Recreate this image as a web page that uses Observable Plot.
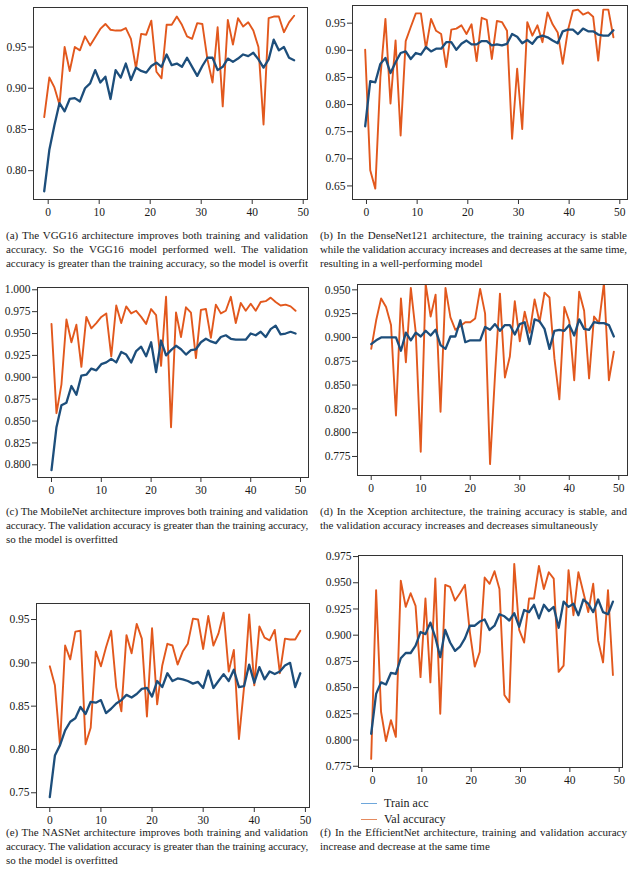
<!DOCTYPE html>
<html>
<head>
<meta charset="utf-8">
<script src="https://cdn.jsdelivr.net/npm/d3@7"></script>
<script src="https://cdn.jsdelivr.net/npm/@observablehq/plot@0.6"></script>
<style>
  html, body { margin: 0; padding: 0; background: #fff; }
  #page { position: relative; width: 630px; height: 870px; overflow: hidden; background: #fff; font-family: "Liberation Serif", "DejaVu Serif", serif; color: #1a1a1a; }
  .panel { position: absolute; }
  .cap { position: absolute; font-size: 11px; line-height: 14.2px; color: #1a1a1a; }
  .cap div { white-space: nowrap; }
  .cap .j { text-align: justify; text-align-last: justify; }
  .leg { position: absolute; font-size: 12px; color: #1a1a1a; display: flex; align-items: center; }
  .leg span.sw { display: inline-block; width: 16px; height: 0; border-top: 1.6px solid; margin-right: 7px; }
</style>
</head>
<body>
<div id="page"></div>
<script>
// ---------- data ----------
const epochs = Array.from({length: 50}, (_, i) => i);

const trainVGG16 = [0.775,0.825,0.855,0.882,0.872,0.887,0.888,0.884,0.900,0.906,0.922,0.907,0.914,0.887,0.922,0.913,0.930,0.910,0.925,0.921,0.919,0.927,0.931,0.926,0.941,0.928,0.930,0.926,0.937,0.926,0.915,0.927,0.937,0.937,0.922,0.926,0.936,0.932,0.936,0.941,0.939,0.943,0.935,0.925,0.935,0.959,0.946,0.950,0.937,0.934];
const valVGG16 = [0.865,0.913,0.901,0.880,0.950,0.921,0.950,0.946,0.963,0.952,0.962,0.972,0.978,0.971,0.970,0.970,0.973,0.960,0.924,0.966,0.965,0.982,0.920,0.912,0.977,0.977,0.987,0.977,0.963,0.960,0.979,0.978,0.935,0.907,0.974,0.878,0.983,0.953,0.985,0.975,0.980,0.970,0.950,0.856,0.985,0.987,0.987,0.968,0.980,0.988];

const trainDenseNet = [0.760,0.843,0.841,0.875,0.886,0.858,0.878,0.895,0.898,0.884,0.895,0.892,0.906,0.898,0.903,0.903,0.915,0.915,0.901,0.912,0.918,0.911,0.911,0.917,0.917,0.909,0.911,0.909,0.912,0.930,0.925,0.913,0.919,0.912,0.924,0.927,0.924,0.918,0.913,0.935,0.938,0.938,0.930,0.940,0.935,0.935,0.929,0.927,0.927,0.937];
const valDenseNet = [0.901,0.679,0.645,0.850,0.958,0.802,0.918,0.743,0.917,0.943,0.968,0.968,0.903,0.958,0.936,0.930,0.869,0.938,0.940,0.946,0.930,0.948,0.880,0.960,0.956,0.884,0.954,0.952,0.936,0.737,0.866,0.755,0.952,0.927,0.946,0.915,0.970,0.948,0.933,0.875,0.936,0.973,0.975,0.966,0.970,0.962,0.881,0.975,0.975,0.924];

const trainMobileNet = [0.794,0.843,0.868,0.871,0.890,0.880,0.902,0.903,0.910,0.908,0.915,0.917,0.921,0.917,0.929,0.926,0.917,0.930,0.935,0.924,0.940,0.906,0.942,0.925,0.931,0.936,0.932,0.926,0.931,0.932,0.940,0.944,0.941,0.939,0.946,0.948,0.944,0.943,0.943,0.943,0.950,0.948,0.952,0.946,0.955,0.959,0.949,0.950,0.952,0.950];
const valMobileNet = [0.961,0.859,0.892,0.966,0.940,0.960,0.912,0.969,0.956,0.962,0.969,0.973,0.924,0.982,0.962,0.981,0.973,0.976,0.969,0.961,0.978,0.971,0.913,0.992,0.843,0.974,0.946,0.980,0.974,0.922,0.977,0.978,0.945,0.983,0.973,0.976,0.992,0.962,0.985,0.976,0.984,0.976,0.986,0.987,0.991,0.986,0.982,0.983,0.981,0.976];

const trainXception = [0.893,0.897,0.900,0.900,0.900,0.900,0.886,0.905,0.897,0.905,0.901,0.907,0.902,0.908,0.892,0.888,0.901,0.901,0.918,0.895,0.897,0.897,0.897,0.911,0.908,0.914,0.907,0.913,0.913,0.903,0.914,0.916,0.893,0.919,0.917,0.909,0.888,0.907,0.908,0.907,0.913,0.902,0.919,0.909,0.908,0.916,0.915,0.915,0.913,0.901];
const valXception = [0.888,0.918,0.941,0.932,0.913,0.818,0.941,0.874,0.952,0.905,0.780,0.956,0.922,0.945,0.822,0.952,0.921,0.908,0.912,0.916,0.916,0.920,0.951,0.925,0.767,0.860,0.946,0.858,0.880,0.938,0.896,0.927,0.905,0.940,0.916,0.947,0.942,0.878,0.835,0.932,0.917,0.855,0.948,0.928,0.857,0.922,0.915,0.957,0.855,0.885];

const trainNASNet = [0.745,0.793,0.805,0.822,0.832,0.836,0.849,0.841,0.855,0.854,0.857,0.842,0.847,0.853,0.857,0.863,0.860,0.864,0.870,0.871,0.861,0.879,0.872,0.888,0.879,0.882,0.881,0.879,0.876,0.878,0.871,0.891,0.871,0.879,0.887,0.879,0.892,0.872,0.873,0.898,0.877,0.895,0.881,0.890,0.887,0.890,0.897,0.900,0.872,0.888];
const valNASNet = [0.896,0.874,0.805,0.920,0.904,0.936,0.937,0.806,0.825,0.913,0.896,0.918,0.937,0.872,0.844,0.932,0.911,0.945,0.928,0.838,0.940,0.852,0.897,0.922,0.920,0.898,0.913,0.922,0.951,0.950,0.916,0.954,0.920,0.934,0.958,0.890,0.915,0.812,0.872,0.956,0.874,0.942,0.929,0.926,0.938,0.888,0.928,0.927,0.927,0.937];

const trainEfficientNet = [0.806,0.844,0.855,0.853,0.864,0.863,0.878,0.883,0.883,0.890,0.903,0.901,0.912,0.898,0.879,0.905,0.893,0.885,0.889,0.897,0.909,0.909,0.913,0.915,0.905,0.909,0.920,0.918,0.914,0.921,0.908,0.924,0.922,0.929,0.916,0.929,0.923,0.927,0.907,0.932,0.927,0.930,0.919,0.934,0.930,0.922,0.934,0.922,0.920,0.932];
const valEfficientNet = [0.782,0.943,0.827,0.799,0.819,0.803,0.952,0.927,0.940,0.928,0.860,0.935,0.855,0.954,0.825,0.948,0.946,0.933,0.940,0.948,0.903,0.870,0.884,0.955,0.949,0.961,0.944,0.843,0.836,0.968,0.905,0.893,0.935,0.935,0.966,0.944,0.960,0.954,0.865,0.871,0.962,0.919,0.960,0.941,0.922,0.949,0.895,0.874,0.943,0.862];

const xTicks = [0, 10, 20, 30, 40, 50];
const yTicksA = [0.80, 0.85, 0.90, 0.95];
const yLabelsA = ["0.80", "0.85", "0.90", "0.95"];
const yTicksB = [0.65, 0.70, 0.75, 0.80, 0.85, 0.90, 0.95];
const yLabelsB = ["0.65", "0.70", "0.75", "0.80", "0.85", "0.90", "0.95"];
const yTicksC = [0.800, 0.825, 0.850, 0.875, 0.900, 0.925, 0.950, 0.975, 1.000];
const yLabelsC = ["0.800", "0.825", "0.850", "0.875", "0.900", "0.925", "0.950", "0.975", "1.000"];
const yTicksD = [0.775, 0.800, 0.825, 0.850, 0.875, 0.900, 0.925, 0.950];
const yLabelsD = ["0.775", "0.800", "0.820", "0.850", "0.875", "0.900", "0.925", "0.950"];
const yTicksE = [0.75, 0.80, 0.85, 0.90, 0.95];
const yLabelsE = ["0.75", "0.80", "0.85", "0.90", "0.95"];
const yTicksF = [0.775, 0.800, 0.825, 0.850, 0.875, 0.900, 0.925, 0.950, 0.975];
const yLabelsF = ["0.775", "0.800", "0.825", "0.850", "0.875", "0.900", "0.925", "0.950", "0.975"];

const legendLabels = ["Train acc", "Val accuracy"];

const captionA = ["(a) The VGG16 architecture improves both training and validation", "accuracy. So the VGG16 model performed well. The validation", "accuracy is greater than the training accuracy, so the model is overfit"];
const captionB = ["(b) In the DenseNet121 architecture, the training accuracy is stable", "while the validation accuracy increases and decreases at the same time,", "resulting in a well-performing model"];
const captionC = ["(c) The MobileNet architecture improves both training and validation", "accuracy. The validation accuracy is greater than the training accuracy,", "so the model is overfitted"];
const captionD = ["(d) In the Xception architecture, the training accuracy is stable, and", "the validation accuracy increases and decreases simultaneously"];
const captionE = ["(e) The NASNet architecture improves both training and validation", "accuracy. The validation accuracy is greater than the training accuracy,", "so the model is overfitted"];
const captionF = ["(f) In the EfficientNet architecture, training and validation accuracy", "increase and decrease at the same time"];

// ---------- layout / style ----------
const TRAIN_COLOR = "#1d4e7b";
const VAL_COLOR = "#e2581d";
const AXIS_COLOR = "#333";

const panels = [
  {left: 0,   top: 0,   w: 312, h: 225, m: [7, 5, 26, 33],   xd: [-2.88, 50.84], yd: [0.765, 0.998],  shift: -0.78, train: trainVGG16, val: valVGG16, yt: yTicksA, yl: yLabelsA, cap: captionA, fullLast: true,  capLeft: 6,   capTop: 228, capW: 302},
  {left: 315, top: 0,   w: 315, h: 225, m: [5, 3, 26, 37],   xd: [-2.76, 51.52], yd: [0.625, 0.9826], shift: -0.26, train: trainDenseNet, val: valDenseNet, yt: yTicksB, yl: yLabelsB, cap: captionB, fullLast: false, capLeft: 320, capTop: 228, capW: 307},
  {left: 0,   top: 280, w: 312, h: 222, m: [7, 4, 25, 37],   xd: [-2.81, 51.6],  yd: [0.7855, 1.0026], shift: 0, train: trainMobileNet, val: valMobileNet, yt: yTicksC, yl: yLabelsC, cap: captionC, fullLast: false, capLeft: 6, capTop: 504, capW: 302},
  {left: 315, top: 278, w: 315, h: 224, m: [6, 3, 27, 42],   xd: [-2.77, 51.76], yd: [0.755, 0.9556], shift: 0, train: trainXception, val: valXception, yt: yTicksD, yl: yLabelsD, cap: captionD, fullLast: false, capLeft: 320, capTop: 504, capW: 307},
  {left: 0,   top: 596, w: 312, h: 230, m: [7, 3, 19, 36],   xd: [-2.6, 50.8],   yd: [0.733, 0.9685], shift: 0, train: trainNASNet, val: valNASNet, yt: yTicksE, yl: yLabelsE, cap: captionE, fullLast: false, capLeft: 6, capTop: 825, capW: 302},
  {left: 315, top: 548, w: 315, h: 238, m: [7, 8, 19, 43],   xd: [-2.84, 50.67], yd: [0.7738, 0.976], shift: -0.27, train: trainEfficientNet, val: valEfficientNet, yt: yTicksF, yl: yLabelsF, cap: captionF, fullLast: false, capLeft: 320, capTop: 825, capW: 307}
];

const page = document.getElementById("page");

for (const p of panels) {
  const trainData = p.train.map((v, i) => ({epoch: epochs[i] + p.shift, acc: v}));
  const valData = p.val.map((v, i) => ({epoch: epochs[i] + p.shift, acc: v}));
  const labelOf = new Map(p.yt.map((t, i) => [t.toFixed(3), p.yl[i]]));
  const chart = Plot.plot({
    width: p.w,
    height: p.h,
    marginTop: p.m[0], marginRight: p.m[1], marginBottom: p.m[2], marginLeft: p.m[3],
    style: {fontFamily: "'Liberation Serif', serif", fontSize: "11.5px", color: AXIS_COLOR, background: "transparent", overflow: "visible"},
    x: {domain: p.xd},
    y: {domain: p.yd},
    marks: [
      Plot.line(valData, {x: "epoch", y: "acc", stroke: VAL_COLOR, strokeWidth: 1.9, clip: true}),
      Plot.line(trainData, {x: "epoch", y: "acc", stroke: TRAIN_COLOR, strokeWidth: 2.3, clip: true}),
      Plot.frame({stroke: AXIS_COLOR, strokeWidth: 1}),
      Plot.axisX({ticks: xTicks, tickSize: 5, tickPadding: 3, tickFormat: d => String(d), label: null, stroke: AXIS_COLOR, fill: "#1a1a1a"}),
      Plot.axisY({ticks: p.yt, tickSize: 5, tickPadding: 2, tickFormat: d => labelOf.get(d.toFixed(3)), label: null, stroke: AXIS_COLOR, fill: "#1a1a1a"})
    ]
  });
  chart.classList.add("panel");
  chart.style.left = p.left + "px";
  chart.style.top = p.top + "px";
  page.appendChild(chart);

  const cap = document.createElement("div");
  cap.className = "cap";
  cap.style.left = p.capLeft + "px";
  cap.style.top = p.capTop + "px";
  cap.style.width = p.capW + "px";
  page.appendChild(cap);
  p.cap.forEach((line, i) => {
    const d = document.createElement("div");
    const justify = i < p.cap.length - 1 || p.fullLast;
    if (justify) d.className = "j";
    d.textContent = line;
    cap.appendChild(d);
    // squeeze letter spacing if the natural line is wider than the column
    const probe = document.createElement("span");
    probe.textContent = line;
    probe.style.whiteSpace = "nowrap";
    probe.style.visibility = "hidden";
    probe.style.position = "absolute";
    cap.appendChild(probe);
    const natural = probe.getBoundingClientRect().width;
    cap.removeChild(probe);
    if (natural > p.capW) {
      d.style.letterSpacing = (-(natural - p.capW + 1) / line.length).toFixed(3) + "px";
    }
  });
}

// legend for panel (f)
const legColors = ["#6ea7db", "#e58a5e"];
legendLabels.forEach((lab, i) => {
  const row = document.createElement("div");
  row.className = "leg";
  row.style.left = "361px";
  row.style.top = (796 + i * 15.5) + "px";
  const sw = document.createElement("span");
  sw.className = "sw";
  sw.style.borderTopColor = legColors[i];
  const t = document.createElement("span");
  t.textContent = lab;
  row.appendChild(sw);
  row.appendChild(t);
  page.appendChild(row);
});
</script>
</body>
</html>
